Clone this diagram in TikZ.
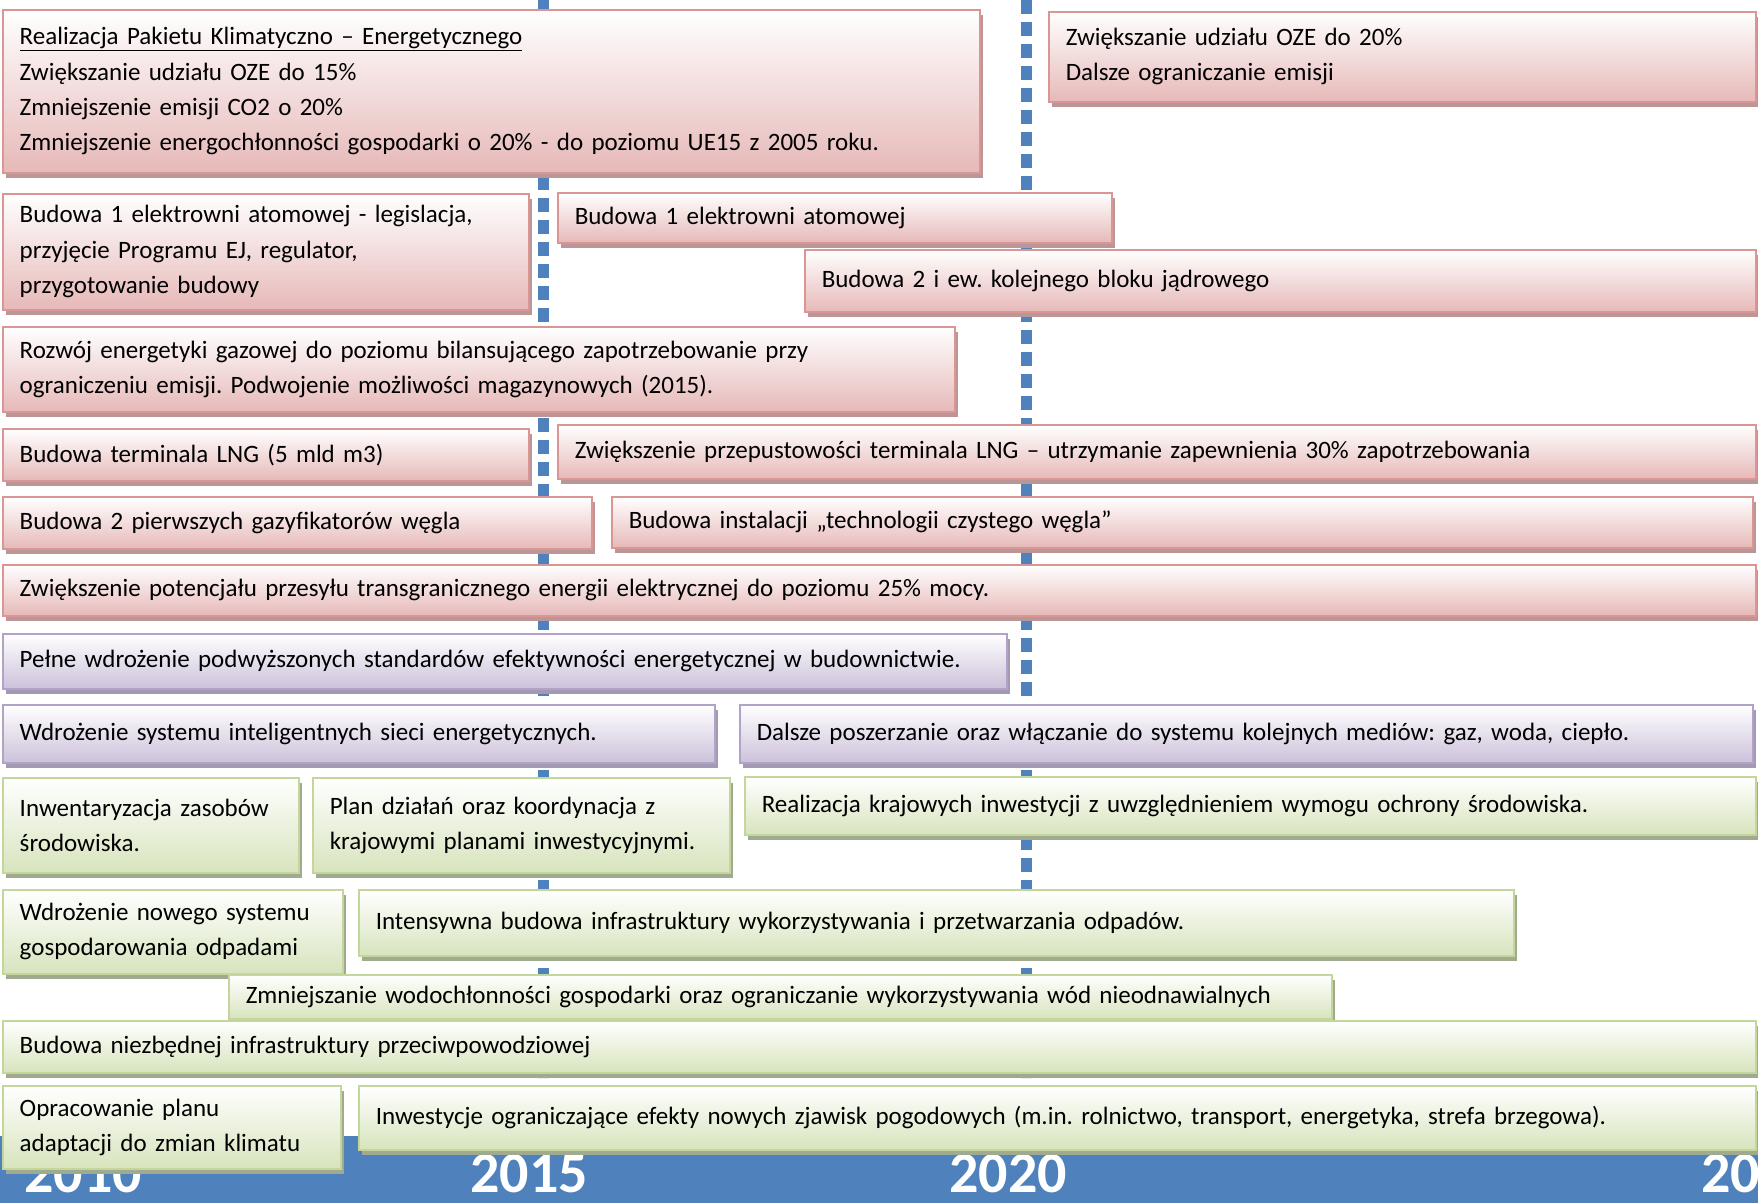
\documentclass[tikz,border=0pt]{standalone}
\usepackage{fontspec}
\setmainfont{Carlito}
\usetikzlibrary{shadows}
\frenchspacing

\definecolor{pinkfill}{RGB}{230,185,184}
\definecolor{pinkline}{RGB}{217,150,148}
\definecolor{pinkshade}{RGB}{186,150,150}
\definecolor{violetfill}{RGB}{204,193,218}
\definecolor{violetline}{RGB}{179,162,199}
\definecolor{violetshade}{RGB}{162,154,178}
\definecolor{greenfill}{RGB}{215,228,189}
\definecolor{greenline}{RGB}{195,214,155}
\definecolor{greenshade}{RGB}{160,170,142}
\definecolor{yearblue}{RGB}{79,129,189}

\begin{document}
\begin{tikzpicture}[x=1pt, y=-1pt,
  plan/.style={anchor=north west, align=left, inner xsep=17pt, inner ysep=0pt,
    line width=1.5pt, font=\fontsize{25}{35.4}\selectfont},
  pinkbox/.style={plan, draw=pinkline, top color=white, bottom color=pinkfill,
    drop shadow={shadow xshift=3pt, shadow yshift=-5pt, fill=pinkshade, opacity=1}},
  violetbox/.style={plan, draw=violetline, top color=white, bottom color=violetfill,
    drop shadow={shadow xshift=3pt, shadow yshift=-5pt, fill=violetshade, opacity=1}},
  greenbox/.style={plan, draw=greenline, top color=white, bottom color=greenfill,
    drop shadow={shadow xshift=3pt, shadow yshift=-5pt, fill=greenshade, opacity=1}},
  year/.style={text=white, inner sep=0pt, font=\fontsize{58}{60}\selectfont\bfseries},
  yearline/.style={yearblue, line width=11pt, dash pattern=on 14pt off 8pt}]
  \useasboundingbox (0,0) rectangle (1758,1203);
  \clip (0,0) rectangle (1758,1203);
  \fill[white] (0,0) rectangle (1758,1203);

  % time axis
  \fill[yearblue] (0,1136) rectangle (1758,1203);
  \node[year] (y2010) at (83,1174) {2010};
  \node[year] (y2015) at (529,1174) {2015};
  \node[year] (y2020) at (1008,1174) {2020};
  \node[year, anchor=west] (y2025) at (1701,1174) {2025};
  \coordinate (m15top) at (543,0);
  \coordinate (m15bot) at (543,1078);
  \coordinate (m20top) at (1026,0);
  \coordinate (m20bot) at (1026,1078);
  \draw[yearline] (m15top) -- (m15bot);
  \draw[yearline] (m20top) -- (m20bot);

  % energy
  \node[pinkbox, text width=943pt, minimum height=163pt] (pakiet) at (2,9)
    {\underline{Realizacja Pakietu Klimatyczno – Energetycznego}\\
     Zwiększanie udziału OZE do 15\%\\
     Zmniejszenie emisji CO2 o 20\%\\
     Zmniejszenie energochłonności gospodarki o 20\% - do poziomu UE15 z 2005 roku.};
  \node[pinkbox, text width=673pt, minimum height=90pt] (oze) at (1048,11)
    {Zwiększanie udziału OZE do 20\%\\ Dalsze ograniczanie emisji};
  \node[pinkbox, text width=492pt, minimum height=116pt] (atomprep) at (2,193)
    {Budowa 1 elektrowni atomowej - legislacja,\\ przyjęcie Programu EJ, regulator,\\ przygotowanie budowy};
  \node[pinkbox, text width=520pt, minimum height=50pt] (atom1) at (557,192)
    {Budowa 1 elektrowni atomowej};
  \node[pinkbox, text width=917pt, minimum height=62pt] (atom2) at (804,249)
    {Budowa 2 i ew. kolejnego bloku jądrowego};
  \node[pinkbox, text width=918pt, minimum height=85pt] (gaz) at (2,326)
    {Rozwój energetyki gazowej do poziomu bilansującego zapotrzebowanie przy\\
     ograniczeniu emisji. Podwojenie możliwości magazynowych (2015).};
  \node[pinkbox, text width=492pt, minimum height=52pt] (lng) at (2,428)
    {Budowa terminala LNG (5 mld m3)};
  \node[pinkbox, text width=1164pt, minimum height=54pt] (lngplus) at (557,424)
    {Zwiększenie przepustowości terminala LNG – utrzymanie zapewnienia 30\% zapotrzebowania};
  \node[pinkbox, text width=555pt, minimum height=52pt] (gazyf) at (2,496)
    {Budowa 2 pierwszych gazyfikatorów węgla};
  \node[pinkbox, text width=1107pt, minimum height=51pt] (wegiel) at (611,496)
    {Budowa instalacji „technologii czystego węgla”};
  \node[pinkbox, text width=1719pt, minimum height=51pt] (przesyl) at (2,564)
    {Zwiększenie potencjału przesyłu transgranicznego energii elektrycznej do poziomu 25\% mocy.};

  % efficiency
  \node[violetbox, text width=970pt, minimum height=55pt] (budownictwo) at (2,633)
    {Pełne wdrożenie podwyższonych standardów efektywności energetycznej w budownictwie.};
  \node[violetbox, text width=678pt, minimum height=58pt] (sieci) at (2,704)
    {Wdrożenie systemu inteligentnych sieci energetycznych.};
  \node[violetbox, text width=979pt, minimum height=58pt] (media) at (739,704)
    {Dalsze poszerzanie oraz włączanie do systemu kolejnych mediów: gaz, woda, ciepło.};

  % environment
  \node[greenbox, text width=262pt, minimum height=95pt] (zasoby) at (2,777)
    {Inwentaryzacja zasobów\\ środowiska.};
  \node[greenbox, text width=383pt, minimum height=95pt] (koordynacja) at (312,777)
    {Plan działań oraz koordynacja z\\ krajowymi planami inwestycyjnymi.};
  \node[greenbox, text width=977pt, minimum height=58pt] (inwestycje) at (744,776)
    {Realizacja krajowych inwestycji z uwzględnieniem wymogu ochrony środowiska.};
  \node[greenbox, text width=306pt, minimum height=84pt] (odpady) at (2,889)
    {Wdrożenie nowego systemu\\ gospodarowania odpadami};
  \node[greenbox, text width=1121pt, minimum height=66pt] (odpadyinfra) at (358,889)
    {Intensywna budowa infrastruktury wykorzystywania i przetwarzania odpadów.};
  \node[greenbox, text width=1069pt, minimum height=44pt] (woda) at (228,974)
    {Zmniejszanie wodochłonności gospodarki oraz ograniczanie wykorzystywania wód nieodnawialnych};
  \node[greenbox, text width=1719pt, minimum height=52pt] (powodz) at (2,1020)
    {Budowa niezbędnej infrastruktury przeciwpowodziowej};
  \node[greenbox, text width=304pt, minimum height=83pt] (adaptacja) at (2,1085)
    {Opracowanie planu\\ adaptacji do zmian klimatu};
  \node[greenbox, text width=1363pt, minimum height=64pt] (pogoda) at (358,1085)
    {Inwestycje ograniczające efekty nowych zjawisk pogodowych (m.in. rolnictwo, transport, energetyka, strefa brzegowa).};
\end{tikzpicture}
\end{document}
